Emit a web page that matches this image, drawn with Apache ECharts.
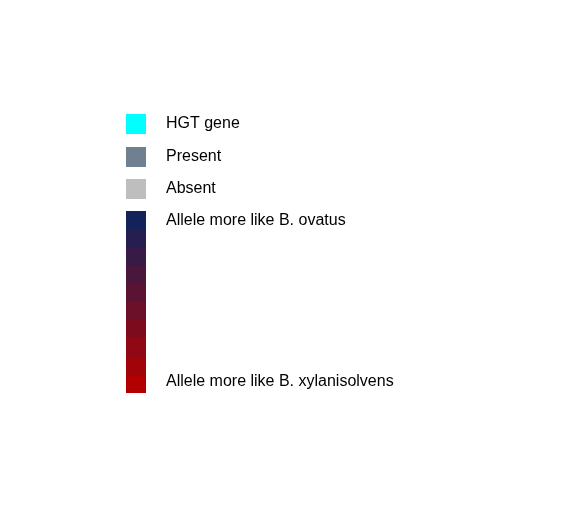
<!DOCTYPE html>
<html>
<head>
<meta charset="utf-8">
<style>html,body{margin:0;padding:0;background:#fff;}#chart{width:561px;height:526px;}</style>
<script src="https://cdn.jsdelivr.net/npm/echarts@6/dist/echarts.min.js"></script>
</head>
<body>
<div id="chart"></div>
<script>
// ---- data ----
var keyLabels = ['HGT gene', 'Present', 'Absent'];
var keyColors = ['#00ffff', '#708090', '#bebebe'];
var rampLabels = ['Allele more like B. ovatus', 'Allele more like B. xylanisolvens'];
var rampColors = ['#14225a', '#261e50', '#371a46', '#49173c', '#5a1332',
                  '#6c0f28', '#7d0b1e', '#8f0814', '#a0040a', '#b20000'];

// ---- layout ----
var W = 561, H = 526;
var boxX = 126, boxW = 20;
var keyTop = 114, keyStep = 32.5, keyH = 20;
var rampTop = 211, rampBottom = 393;
var textX = 166;
var font = '16px "Liberation Sans", Arial, sans-serif';

var chart = echarts.init(document.getElementById('chart'), null, {renderer: 'canvas'});

function textEl(x, y, s) {
  return {type: 'text', style: {x: x, y: y, text: s, font: font, fill: '#000', textVerticalAlign: 'middle', verticalAlign: 'middle', align: 'left'}};
}

var rampH = (rampBottom - rampTop) / rampColors.length;

chart.setOption({
  animation: false,
  backgroundColor: '#ffffff',
  grid: {left: 0, right: 0, top: 0, bottom: 0},
  xAxis: {type: 'value', min: 0, max: W, show: false},
  yAxis: {type: 'value', min: 0, max: H, inverse: true, show: false},
  series: [
    {
      type: 'custom',
      data: keyLabels.map(function (l, i) { return [i]; }),
      renderItem: function (params, api) {
        var i = api.value(0);
        var p0 = api.coord([boxX, keyTop + i * keyStep]);
        var p1 = api.coord([boxX + boxW, keyTop + i * keyStep + keyH]);
        return {type: 'group', children: [
          {type: 'rect', shape: {x: Math.round(p0[0]), y: Math.round(p0[1]), width: Math.round(p1[0] - p0[0]), height: Math.round(p1[1] - p0[1])}, style: {fill: keyColors[i]}},
          textEl(api.coord([textX, 0])[0], (p0[1] + p1[1]) / 2, keyLabels[i])
        ]};
      }
    },
    {
      type: 'custom',
      data: rampColors.map(function (c, i) { return [i]; }),
      renderItem: function (params, api) {
        var i = api.value(0);
        var p0 = api.coord([boxX, rampTop + i * rampH]);
        var p1 = api.coord([boxX + boxW, rampTop + (i + 1) * rampH]);
        var y0 = Math.round(p0[1]), y1 = Math.round(p1[1]);
        var children = [{type: 'rect', shape: {x: Math.round(p0[0]), y: y0, width: Math.round(p1[0] - p0[0]), height: y1 - y0}, style: {fill: rampColors[i]}}];
        if (i === 0) children.push(textEl(api.coord([textX, 0])[0], (p0[1] + p1[1]) / 2, rampLabels[0]));
        if (i === rampColors.length - 1) children.push(textEl(api.coord([textX, 0])[0], (p0[1] + p1[1]) / 2 - 2, rampLabels[1]));
        return {type: 'group', children: children};
      }
    }
  ]
});
</script>
</body>
</html>
